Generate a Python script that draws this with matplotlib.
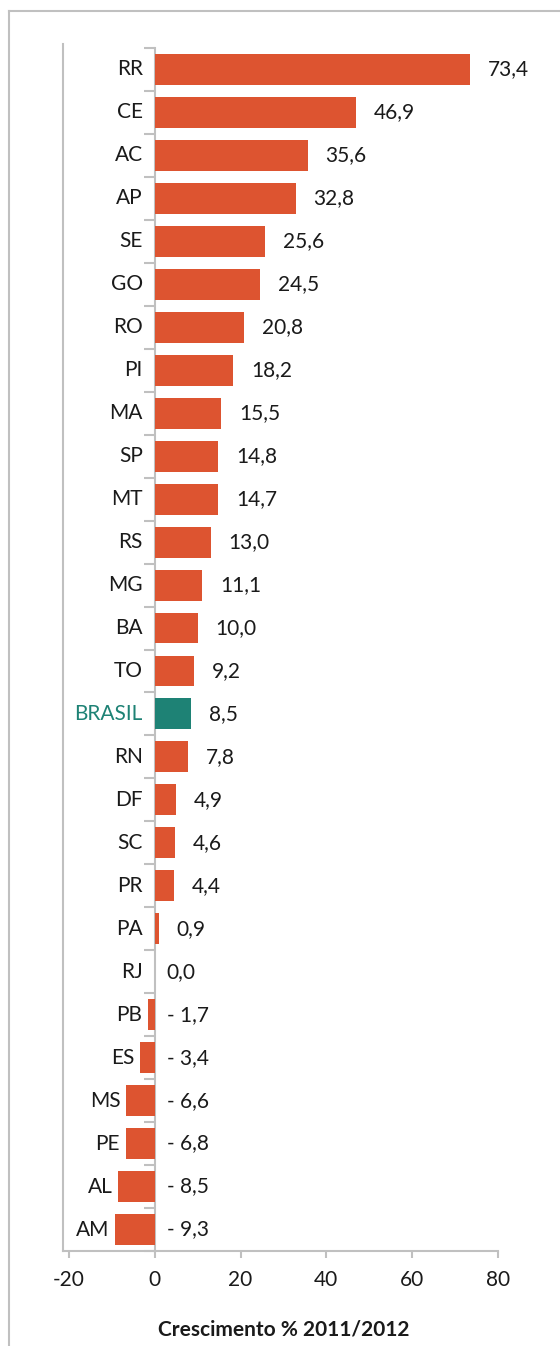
import matplotlib.pyplot as plt
from matplotlib.lines import Line2D
import numpy as np

plt.rcParams['font.family'] = ['Lato', 'DejaVu Sans']

estados = ["RR", "CE", "AC", "AP", "SE", "GO", "RO", "PI", "MA", "SP", "MT", "RS", "MG", "BA",
           "TO", "BRASIL", "RN", "DF", "SC", "PR", "PA", "RJ", "PB", "ES", "MS", "PE", "AL", "AM"]
crescimento = [73.4, 46.9, 35.6, 32.8, 25.6, 24.5, 20.8, 18.2, 15.5, 14.8, 14.7, 13.0, 11.1, 10.0,
               9.2, 8.5, 7.8, 4.9, 4.6, 4.4, 0.9, 0.0, -1.7, -3.4, -6.6, -6.8, -8.5, -9.3]
x_ticks = [-20, 0, 20, 40, 60, 80]

laranja = "#DD5430"
verde = "#1E8275"
cinza = "#C0C0C0"
texto = "#1A1A1A"

W, H = 560, 1346
fig = plt.figure(figsize=(W / 100, H / 100), dpi=100)

# moldura
fig.add_artist(Line2D([9 / W, 9 / W], [0, 1 - 11 / H], color=cinza, lw=1.5))
fig.add_artist(Line2D([9 / W, 1], [1 - 11 / H, 1 - 11 / H], color=cinza, lw=1.5))

ax = fig.add_axes([63 / W, (H - 1251) / H, (498 - 63) / W, (1251 - 48) / H])

n = len(estados)
ypos = np.arange(n)
cores = [verde if e == "BRASIL" else laranja for e in estados]
ax.barh(ypos, crescimento, height=0.72, color=cores, zorder=3)

ax.set_xlim(-21.4, 80)
ax.set_ylim(n - 0.5, -0.5)

# rotulos de valor
for y, v in zip(ypos, crescimento):
    if v > 0:
        s = f"{v:.1f}".replace(".", ",")
        x0, off = v, 18
    else:
        s = ("- " if v < 0 else "") + f"{abs(v):.1f}".replace(".", ",")
        x0, off = 0, 12
    ax.annotate(s, (x0, y), xytext=(off, 0), textcoords="offset pixels",
                ha="left", va="center", fontsize=15, color=texto)

# rotulos de categoria: ficam a esquerda do eixo ou da barra negativa
for y, v, e in zip(ypos, crescimento, estados):
    x_eixo = ax.transData.transform((0, y))[0]
    x_barra = ax.transData.transform((min(v, 0), y))[0]
    ypx = ax.transData.transform((0, y))[1]
    xr = min(x_eixo - 12, x_barra - 6)
    ax.annotate(e, (xr, ypx), xycoords="figure pixels", ha="right", va="center",
                fontsize=15, color=verde if e == "BRASIL" else texto)

# eixo de categorias no zero
for s in ["top", "right"]:
    ax.spines[s].set_visible(False)
ax.spines["left"].set_position(("data", 0))
ax.spines["left"].set_color(cinza)
ax.spines["left"].set_linewidth(1.5)
ax.spines["bottom"].set_color(cinza)
ax.spines["bottom"].set_linewidth(1.5)
ax.plot([0, 0], [0, 1.003], transform=ax.transAxes, color=cinza, lw=1.5, clip_on=False)

ax.set_yticks([])
ax.set_yticks(np.arange(n + 1) - 0.5, minor=True)
ax.tick_params(axis="y", which="minor", length=8, width=1.5, color=cinza, direction="out")

ax.set_xticks(x_ticks)
ax.set_xticklabels([str(t) for t in x_ticks], fontsize=15, color=texto)
ax.tick_params(axis="x", length=5, width=1.5, color=cinza, pad=9)

fig.text(284 / W, 1 - 1330 / H, "Crescimento % 2011/2012", ha="center", va="center",
         fontsize=15, fontweight="bold", color=texto)

fig.savefig("out.png", dpi=100)
